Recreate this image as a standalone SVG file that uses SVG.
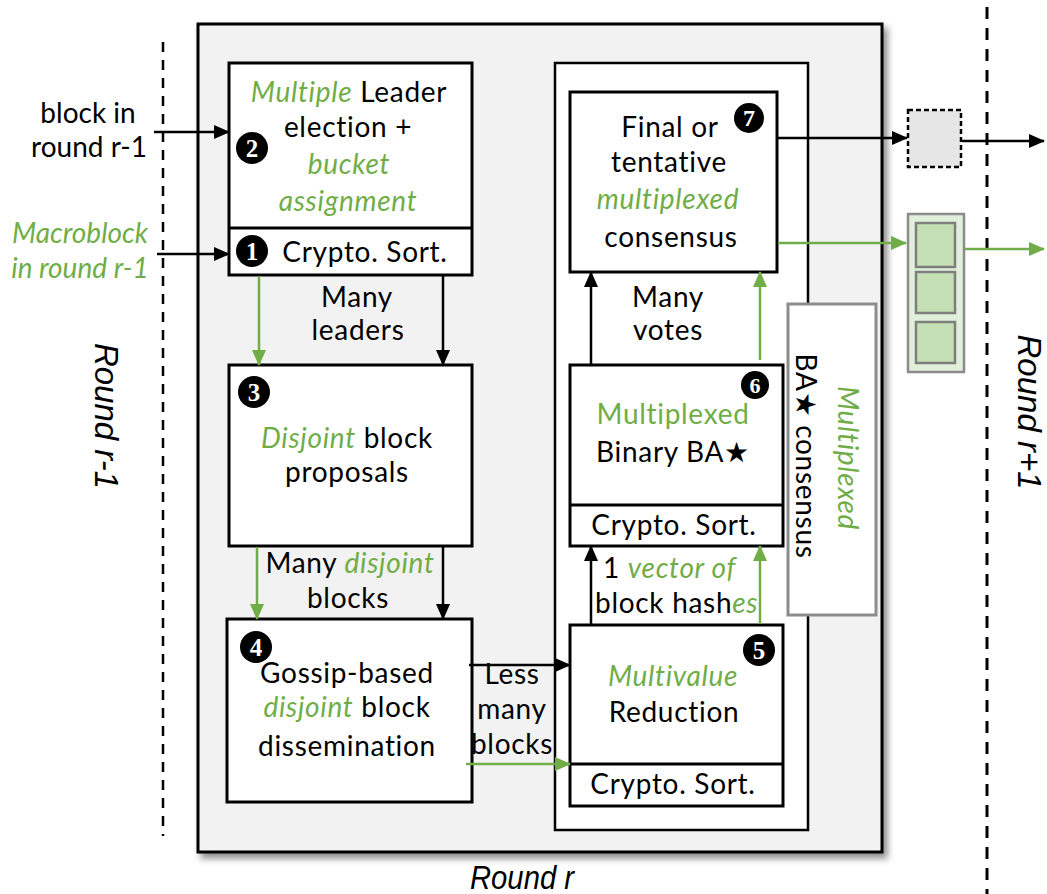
<svg xmlns="http://www.w3.org/2000/svg" width="1047" height="894" viewBox="0 0 1047 894">
<style>
  text { font-family: Lato, "Liberation Sans", sans-serif; font-size: 28px; fill: #000; letter-spacing: 0.7px; }
  .c { text-anchor: middle; }
  .g { fill: #70ad47; }
  .i { font-style: italic; }
  .ns { letter-spacing: 0; }
  .round { font-family: "Liberation Sans", Arial, sans-serif; font-style: italic; font-size: 33px; text-anchor: middle; letter-spacing: 0; }
  .num { font-family: "Liberation Serif", serif; font-weight: bold; font-size: 25px; fill: #fff; text-anchor: middle; letter-spacing: 0; }
  .box { fill: #fff; stroke: #000; stroke-width: 3; }
  .blk { stroke: #000; stroke-width: 2.5; fill: none; }
  .grn { stroke: #70ad47; stroke-width: 2.5; fill: none; }
</style>
<defs>
  <marker id="ab" markerUnits="userSpaceOnUse" markerWidth="16" markerHeight="14" refX="15" refY="7" orient="auto">
    <path d="M0,0 L16,7 L0,14 Z" fill="#000"/>
  </marker>
  <marker id="ag" markerUnits="userSpaceOnUse" markerWidth="16" markerHeight="14" refX="15" refY="7" orient="auto">
    <path d="M0,0 L16,7 L0,14 Z" fill="#70ad47"/>
  </marker>
  <filter id="sh" x="-5%" y="-5%" width="115%" height="115%">
    <feDropShadow dx="4" dy="5" stdDeviation="3.5" flood-color="#000" flood-opacity="0.45"/>
  </filter>
</defs>

<!-- round separators -->
<line x1="163" y1="42" x2="163" y2="836" stroke="#000" stroke-width="2.5" stroke-dasharray="10,8"/>
<line x1="987" y1="7" x2="987" y2="894" stroke="#000" stroke-width="3" stroke-dasharray="12,9"/>

<g id="round-r">
  <rect x="198" y="24" width="684" height="828" fill="#f2f2f2" stroke="#000" stroke-width="3" filter="url(#sh)"/>
  <text class="round" x="522" y="889" textLength="104" lengthAdjust="spacingAndGlyphs">Round r</text>
</g>
<text class="round" transform="translate(95,416) rotate(90)">Round r-1</text>
<text class="round" transform="translate(1018,412) rotate(90)">Round r+1</text>

<g id="consensus-container">
  <rect x="555" y="63" width="253" height="767" fill="#fff" stroke="#000" stroke-width="2.5"/>
</g>

<!-- input labels -->
<g id="input-block">
  <text class="c ns" x="88" y="123">block in</text>
  <text class="c ns" x="89" y="157">round r-1</text>
</g>
<g id="input-macroblock">
  <text class="c g i ns" x="80" y="243">Macroblock</text>
  <text class="c g i ns" x="80" y="278">in round r-1</text>
</g>

<g id="node-2">
  <rect class="box" x="229" y="63" width="243" height="212"/>
  <line x1="229" y1="228" x2="472" y2="228" stroke="#000" stroke-width="3"/>
  <text class="c" x="349" y="102"><tspan class="g i">Multiple</tspan> Leader</text>
  <text class="c" x="348" y="137">election +</text>
  <text class="c g i" x="349" y="174">bucket</text>
  <text class="c g i" x="348" y="211">assignment</text>
  <text class="c" x="365" y="262">Crypto. Sort.</text>
  <circle cx="252" cy="148" r="16" fill="#000"/>
  <text class="num" x="252" y="157">2</text>
  <circle cx="252" cy="251" r="16" fill="#000"/>
  <text class="num" x="252" y="260">1</text>
</g>

<g id="node-3">
  <rect class="box" x="229" y="365" width="243" height="181"/>
  <text class="c" x="347" y="448"><tspan class="g i">Disjoint</tspan> block</text>
  <text class="c" x="347" y="482">proposals</text>
  <circle cx="254" cy="392" r="16" fill="#000"/>
  <text class="num" x="254" y="401">3</text>
</g>

<g id="node-4">
  <rect class="box" x="227" y="619" width="245" height="183"/>
  <text class="c" x="347" y="683">Gossip-based</text>
  <text class="c" x="347" y="717"><tspan class="g i">disjoint</tspan> block</text>
  <text class="c" x="347" y="756">dissemination</text>
  <circle cx="256" cy="647" r="16" fill="#000"/>
  <text class="num" x="256" y="656">4</text>
</g>

<g id="node-5">
  <rect class="box" x="570" y="625" width="213" height="181"/>
  <line x1="570" y1="764" x2="783" y2="764" stroke="#000" stroke-width="3"/>
  <text class="c g i" x="673" y="686">Multivalue</text>
  <text class="c" x="674" y="722">Reduction</text>
  <text class="c" x="673" y="794">Crypto. Sort.</text>
  <circle cx="759" cy="650" r="16" fill="#000"/>
  <text class="num" x="759" y="659">5</text>
</g>

<g id="node-6">
  <rect class="box" x="570" y="365" width="213" height="181"/>
  <line x1="570" y1="505" x2="783" y2="505" stroke="#000" stroke-width="3"/>
  <text class="c g" x="673" y="424">Multiplexed</text>
  <text class="c" x="673" y="462">Binary BA★</text>
  <text class="c" x="674" y="535">Crypto. Sort.</text>
  <circle cx="755" cy="385" r="14" fill="#000"/>
  <text class="num" x="755" y="393" style="font-size:22px">6</text>
</g>

<g id="node-7">
  <rect class="box" x="570" y="92" width="207" height="180"/>
  <text class="c" x="670" y="137">Final or</text>
  <text class="c" x="669" y="172">tentative</text>
  <text class="c g i" x="668" y="209">multiplexed</text>
  <text class="c" x="671" y="247">consensus</text>
  <circle cx="749" cy="118" r="15" fill="#000"/>
  <text class="num" x="749" y="126" style="font-size:24px">7</text>
</g>

<g id="label-ba-consensus">
  <rect x="788" y="304" width="88" height="311" fill="#fff" stroke="#8c8c8c" stroke-width="3"/>
  <text class="c g i" transform="translate(838,458) rotate(90)">Multiplexed</text>
  <text class="c" transform="translate(796,456) rotate(90)">BA★ consensus</text>
</g>

<g id="tentative-block">
  <rect x="908" y="110" width="53" height="57" fill="#e6e6e6" stroke="#000" stroke-width="2.5" stroke-dasharray="5,3"/>
</g>

<g id="final-blocks">
  <rect x="908" y="214" width="56" height="158" fill="#e2efda" stroke="#8c8c8c" stroke-width="2.5"/>
  <rect x="916" y="223" width="39" height="44" fill="#c5e0b4" stroke="#7f7f7f" stroke-width="2.5"/>
  <rect x="916" y="272" width="39" height="41" fill="#c5e0b4" stroke="#7f7f7f" stroke-width="2.5"/>
  <rect x="916" y="322" width="39" height="41" fill="#c5e0b4" stroke="#7f7f7f" stroke-width="2.5"/>
</g>

<!-- edge labels -->
<g id="edge-labels">
  <text class="c" x="357" y="307">Many</text>
  <text class="c" x="358" y="340">leaders</text>
  <text class="c" x="350" y="573">Many <tspan class="g i">disjoint</tspan></text>
  <text class="c" x="348" y="608">blocks</text>
  <text class="c" x="512" y="684">Less</text>
  <text class="c" x="512" y="719">many</text>
  <text class="c" x="512" y="754">blocks</text>
  <text class="c" x="668" y="307">Many</text>
  <text class="c" x="668" y="340">votes</text>
  <text x="603" y="578">1 <tspan class="g i">vector of</tspan></text>
  <text x="595" y="613">block hash<tspan class="g i">es</tspan></text>
</g>

<g id="connectors">
  <line class="blk" x1="154" y1="132" x2="229" y2="132" marker-end="url(#ab)"/>
  <line class="blk" x1="157" y1="254" x2="229" y2="254" marker-end="url(#ab)"/>
  <line class="grn" x1="259" y1="276" x2="259" y2="365" marker-end="url(#ag)"/>
  <line class="blk" x1="443" y1="276" x2="443" y2="365" marker-end="url(#ab)"/>
  <line class="grn" x1="257" y1="547" x2="257" y2="619" marker-end="url(#ag)"/>
  <line class="blk" x1="443" y1="547" x2="443" y2="619" marker-end="url(#ab)"/>
  <line class="blk" x1="469" y1="665" x2="570" y2="665" marker-end="url(#ab)"/>
  <line class="grn" x1="466" y1="764" x2="570" y2="764" marker-end="url(#ag)"/>
  <line class="blk" x1="591" y1="624" x2="591" y2="546" marker-end="url(#ab)"/>
  <line class="grn" x1="760" y1="624" x2="760" y2="546" marker-end="url(#ag)"/>
  <line class="blk" x1="591" y1="364" x2="591" y2="272" marker-end="url(#ab)"/>
  <line class="grn" x1="760" y1="360" x2="760" y2="272" marker-end="url(#ag)"/>
  <line class="blk" x1="778" y1="138" x2="907" y2="138" marker-end="url(#ab)"/>
  <line class="blk" x1="962" y1="141" x2="1044" y2="141" marker-end="url(#ab)"/>
  <line class="grn" x1="778" y1="243" x2="906" y2="243" marker-end="url(#ag)"/>
  <line class="grn" x1="965" y1="249" x2="1044" y2="249" marker-end="url(#ag)"/>
</g>
</svg>
